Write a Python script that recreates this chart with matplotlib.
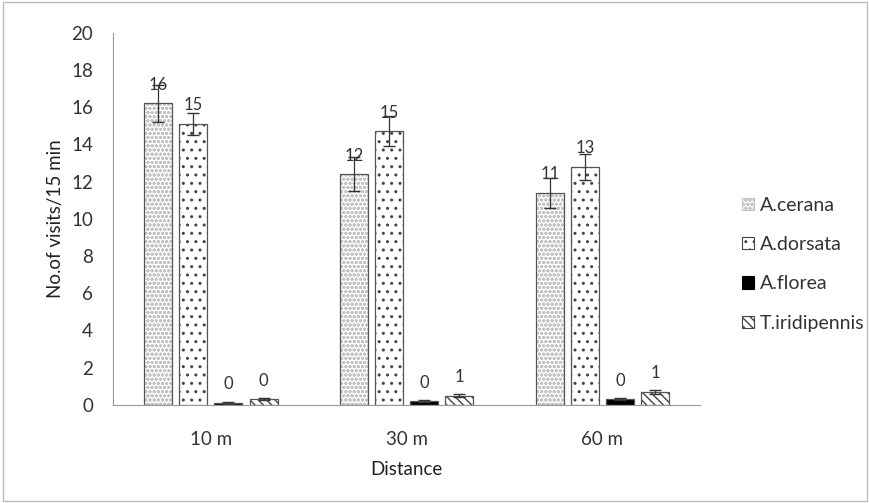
import matplotlib.pyplot as plt
from matplotlib.patches import Patch
import numpy as np

plt.rcParams['font.family'] = ['Lato', 'DejaVu Sans']
plt.rcParams['hatch.linewidth'] = 1.0

# dados
distancias = ["10 m", "30 m", "60 m"]
especies = ["A.cerana", "A.dorsata", "A.florea", "T.iridipennis"]
cerana = [16.2, 12.4, 11.4]
dorsata = [15.1, 14.7, 12.8]
florea = [0.1, 0.2, 0.3]
iridipennis = [0.3, 0.5, 0.7]
erro_cerana = [1.0, 0.9, 0.8]
erro_dorsata = [0.6, 0.8, 0.7]
erro_florea = [0.03, 0.05, 0.05]
erro_iridipennis = [0.05, 0.08, 0.1]
rotulos = [[16, 12, 11], [15, 15, 13], [0, 0, 0], [0, 1, 1]]

series = [cerana, dorsata, florea, iridipennis]
erros = [erro_cerana, erro_dorsata, erro_florea, erro_iridipennis]
hachuras = ["oooo", "..", "", "\\\\\\\\"]
cores = ["white", "white", "black", "white"]
cor_hachura = ["#c4c4c4", "#444444", "black", "#444444"]

fig = plt.figure(figsize=(8.7, 5.03), dpi=100)
ax = fig.add_axes([0.13, 0.195, 0.675, 0.74])

x = np.arange(len(distancias))
w = 0.143
passo = 0.179
for k in range(4):
    pos = x + (k - 1.5) * passo
    # camada da hachura
    ax.bar(pos, series[k], w, color=cores[k], edgecolor=cor_hachura[k], hatch=hachuras[k],
           linewidth=0)
    # contorno
    ax.bar(pos, series[k], w, fill=False, edgecolor="#555555", linewidth=0.9)
    ax.errorbar(pos, series[k], yerr=erros[k], fmt="none", ecolor="#333333",
                elinewidth=0.9, capsize=4)
    for p, v, r in zip(pos, series[k], rotulos[k]):
        ax.text(p, v + 1.0, str(r), ha="center", va="center", fontsize=12, color="#333333")

ax.set_ylim(0, 20)
ax.set_yticks(range(0, 21, 2))
ax.set_xlim(-0.5, 2.5)
ax.set_xticks(x)
ax.set_xticklabels(distancias)
for s in ["top", "right"]:
    ax.spines[s].set_visible(False)
ax.spines["bottom"].set_color("#999999")
ax.spines["left"].set_color("#999999")
ax.tick_params(axis="both", length=0, labelsize=13.5, colors="#333333")
ax.tick_params(axis="y", pad=14.5)
ax.tick_params(axis="x", pad=19)
ax.set_ylabel("No.of visits/15 min", fontsize=13.5, color="#222222", labelpad=5)
ax.set_xlabel("Distance", fontsize=13.5, color="#222222", labelpad=9.5)

# legenda com contorno nos quadradinhos
alcas = []
for k in range(4):
    alcas.append(Patch(facecolor=cores[k], edgecolor=cor_hachura[k], hatch=hachuras[k],
                       linewidth=0.8, label=especies[k]))
leg = fig.legend(handles=alcas, loc="center left", bbox_to_anchor=(0.833, 0.475),
                 frameon=False, fontsize=14, labelspacing=1.15, handlelength=0.6,
                 handleheight=0.6, handletextpad=0.3, labelcolor="#333333")

fig.patches.append(plt.Rectangle((0.003, 0.003), 0.994, 0.994, transform=fig.transFigure,
                                 fill=False, edgecolor="#bbbbbb", linewidth=1))

plt.savefig("out.png", dpi=100)
plt.close()
